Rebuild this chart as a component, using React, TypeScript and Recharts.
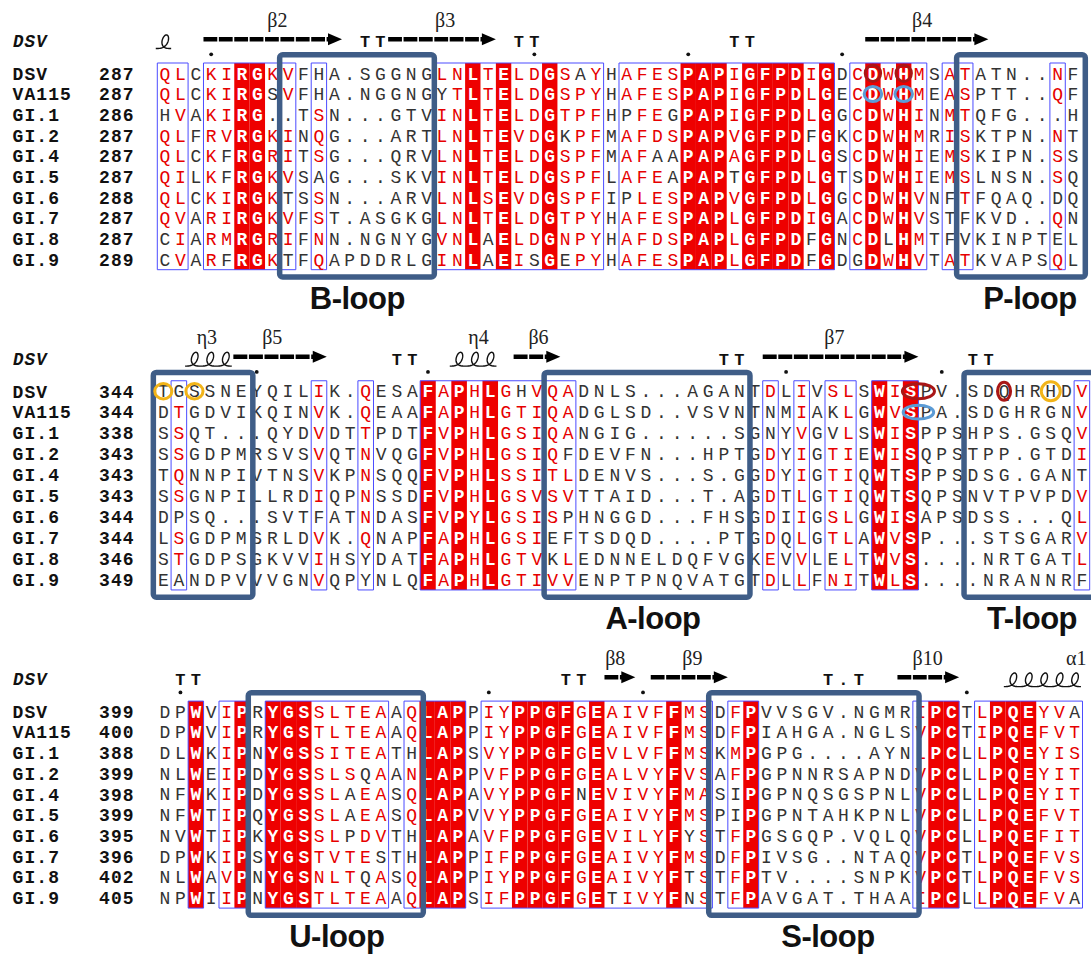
import React from 'react';
import { ScatterChart, Scatter, XAxis, YAxis, ReferenceArea } from 'recharts';

// ---------- data ----------
const NAMES = ['DSV', 'VA115', 'GI.1', 'GI.2', 'GI.4', 'GI.5', 'GI.6', 'GI.7', 'GI.8', 'GI.9'];

const B1_START = [287, 287, 286, 287, 287, 287, 288, 287, 287, 289];
const B1_SEQ = [
  'QLCKIRGKVFHA.SGGNGLNLTELDGSAYHAFESPAPIGFPDIGDCDWHMSATATN..NF',
  'QLCKIRGSVFHA.NGGNGYTLTELDGSPYHAFESPAPIGFPDLGECDWHMEASPTT..QF',
  'HVAKIRG..TSN...GTVINLTELDGTPFHPFEGPAPIGFPDLGGCDWHINMTQFG...H',
  'QLFRVRGKINQG...ARTLNLTEVDGKPFMAFDSPAPVGFPDFGKCDWHMRISKTPN.NT',
  'QLCKFRGRITSG...QRVLNLTELDGSPFMAFAAPAPAGFPDLGSCDWHIEMSKIPN.SS',
  'QILKFRGKVSAG...SKVINLTELDGSPFLAFEAPAPTGFPDLGTSDWHIEMSLNSN.SQ',
  'QLCKIRGKTSSN...ARVLNLSEVDGSPFIPLESPAPVGFPDLGGCDWHVNFTFQAQ.DQ',
  'QVARIRGKVFST.ASGKGLNLTELDGTPYHAFESPAPLGFPDIGACDWHVSTFKVD..QN',
  'CIARMRGRIFNN.NGNYGVNLAELDGNPYHAFDSPAPLGFPDFGNCDLHMTFVKINPTEL',
  'CVARFRGKTFQAPDDRLGINLAEISGEPYHAFESPAPLGFPDFGDGDWHVTATKVAPSQL',
];
const B1_FILL = [6, 7, 21, 23, 26, 35, 36, 37, 39, 40, 41, 42, 44, 47, 49];
const B1_FRAMES = [[1, 2], [4, 9], [11, 11], [19, 29], [31, 44], [46, 50], [52, 53], [59, 59]];
const B1_RED: Record<number, string> = {
  1: 'Q', 2: 'LVI', 4: 'KR', 5: 'IVM', 8: 'KR', 9: 'VI', 11: 'SQN', 19: 'LIV', 20: 'NT', 22: 'TS',
  24: 'LVI', 25: 'D', 27: 'STN', 28: 'P', 29: 'YF', 31: 'A', 32: 'FL', 33: 'ED', 34: 'S', 38: 'IVLA',
  43: 'IL', 46: 'C', 48: 'W', 50: 'MIV', 52: 'AMI', 53: 'TS', 59: 'NQS',
};
const B1_ARROWS = [[4, 12], [16, 22], [47, 54]];
const B1_HELICES = [[1, 1]];
const B1_SS_LABELS: [number, string][] = [[8.3, 'β2'], [19.2, 'β3'], [50.2, 'β4']];
const B1_TURNS: [number, string][] = [[14, 'T'], [15, 'T'], [24, 'T'], [25, 'T'], [38, 'T'], [39, 'T']];
const B1_DOTS = [4, 25, 35, 45, 55];
const B1_LOOPS = [[8.45, 18.5], [52.44, 60.8]];
const B1_LOOP_LABELS: [number, string][] = [[13.5, 'B-loop'], [57.2, 'P-loop']];
const B1_MARKS: [number, number, number, number, string][] = [
  [0, 47, 0.5, 0.39, 'red'], [0, 49, 0.5, 0.39, 'red'], [1, 47, 0.57, 0.36, 'blue'], [1, 49, 0.57, 0.36, 'blue'],
];

const B2_START = [344, 344, 338, 343, 343, 343, 344, 344, 346, 349];
const B2_SEQ = [
  'TGSSNEYQILIK.QESAFAPHLGHVQADNLS...AGANTDLIVSLSWISPV.SDQHRHDV',
  'DTGDVIKQINVK.QEAAFAPHLGTIQADGLSD..VSVNTNMIAKLGWVSPA.SDGHRGNV',
  'SSQT...QYDVDTTPDTFVPHLGSIQANGIG......SGNYVGVLSWISPPSHPS.GSQV',
  'SSGDPMRSVSVQTNVQGFVPHLGSIQFDEVFN...HPTGDYIGTIEWISQPSTPP.GTDI',
  'TQNNPIVTNSVKPNSQQFVPHLSSITLDENVS...S.GGDYIGTIQWTSPPSDSG.GANT',
  'SSGNPILLRDIQPNSSDFVPHLGSVSVTTAID...T.AGDTLGTIQWTSQPSNVTPVPDV',
  'DPSQ...SVTFATNDASFVPYLGSISPHNGGD...FHSGDIIGSLGWISAPSDSS...QL',
  'LSGDPMSRLDVK.QNAPFAPHLGSIEFTSDQD....PTGDQLGTLAWVSP...STSGARV',
  'STGDPSGKVVIHSYDATFAPHLGTVKLEDNNELDQFVGKEVVLELTWVS....NRTGATL',
  'EANDPVVVGNVQPYNLQFAPHLGTIVVENPTPNQVATGTDLLFNITWLS....NRANNRF',
];
const B2_FILL = [18, 20, 22, 47, 49];
const B2_FRAMES = [[2, 2], [11, 11], [14, 14], [18, 27], [40, 40], [42, 42], [44, 45], [47, 49], [60, 60]];
const B2_RED: Record<number, string> = {
  2: 'TSQ', 11: 'IV', 14: 'QTN', 19: 'AV', 21: 'HY', 23: 'GS', 24: 'TS', 25: 'VI', 26: 'QTSV', 27: 'ALV',
  40: 'DE', 42: 'IVL', 44: 'STN', 45: 'LI', 48: 'IVL', 60: 'VIL',
};
const B2_ARROWS = [[6, 11], [24, 26], [40, 49]];
const B2_HELICES = [[3, 5], [20, 22]];
const B2_SS_LABELS: [number, string][] = [[3.8, 'η3'], [8.0, 'β5'], [21.25, 'η4'], [25.1, 'β6'], [44.1, 'β7']];
const B2_TURNS: [number, string][] = [[16, 'T'], [17, 'T'], [37, 'T'], [38, 'T'], [53, 'T'], [54, 'T']];
const B2_DOTS = [7, 18, 28, 41, 51];
const B2_LOOPS = [[0.36, 6.75], [25.46, 38.68], [52.43, 60.9]];
const B2_LOOP_LABELS: [number, string][] = [[32.45, 'A-loop'], [56.8, 'T-loop']];
const B2_MARKS: [number, number, number, number, string][] = [
  [0, 1, 0.55, 0.37, 'orange'], [0, 3, 0.55, 0.37, 'orange'], [0, 49.5, 1.03, 0.36, 'red'],
  [1, 49.5, 0.98, 0.33, 'blue'], [0, 55, 0.42, 0.43, 'red'], [0, 58, 0.61, 0.45, 'orange'],
];

const B3_START = [399, 400, 388, 399, 398, 399, 395, 396, 402, 405];
const B3_SEQ = [
  'DPWVIPRYGSSLTEAAQLAPPIYPPGFGEAIVFFMSDFPVVSGV.NGMRIPCTLPQEYVA',
  'DPWVIPRYGSTLTEAAQLAPPIYPPGFGEAIVFFMSDFPIAHGA.NGLSVPCTIPQEFVT',
  'DLWKIPNYGSSITEATHLAPSVYPPGFGEVLVFFMSKMPGPG....AYNLPCLLPQEYIS',
  'NLWEIPDYGSSLSQAANLAPPVFPPGFGEALVYFVSAFPGPNNRSAPNDVPCLLPQEYIT',
  'NFWKIPDYGSSLAEASQLAPAVYPPGFNEVIVYFMASIPGPNQSGSPNLVPCLLPQEYIT',
  'NFWTIPQYGSSLAEASQLAPVVYPPGFGEAIVYFMSPIPGPNTAHKPNLVPCLLPQEFVT',
  'NVWTIPKYGSSLPDVTHLAPAVFPPGFGEVILYFYSTFPGSGQP.VQLQVPCLLPQEFIT',
  'DPWKIPSYGSTVTESTHLAPPIFPPGFGEAIVYFMSDFPIVSG..NTAQVPCTLPQEFVS',
  'NLWAVPNYGSNLTQASQLAPPIYPPGFGEAIVYFTSTFPTV....SNPKVPCTLPQEFVS',
  'NPWIIPNYGSTLTEAAQLAPSIFPPGFGETIVYFNSTFPAVGAT.THAAIPCLLPQEFVA',
];
const B3_FILL = [3, 6, 8, 9, 10, 18, 19, 20, 24, 25, 26, 27, 29, 34, 39, 51, 52, 55, 56, 57];
const B3_FRAMES = [[3, 3], [5, 6], [8, 15], [17, 20], [22, 36], [38, 39], [50, 52], [54, 60]];
const B3_RED: Record<number, string> = {
  5: 'IV', 11: 'STN', 12: 'LIV', 13: 'TS', 14: 'ED', 15: 'AV', 17: 'QN', 22: 'IV', 23: 'YF', 28: 'G',
  30: 'AV', 31: 'IL', 32: 'VL', 33: 'FY', 35: 'MV', 36: 'SA', 38: 'FM', 50: 'IVL', 54: 'LI', 58: 'YF',
  59: 'VI', 60: 'TS',
};
const B3_ARROWS = [[30, 31], [33, 37], [49, 52]];
const B3_HELICES = [[56, 60]];
const B3_SS_LABELS: [number, string][] = [[30.2, 'β8'], [35.2, 'β9'], [50.46, 'β10'], [60.1, 'α1']];
const B3_TURNS: [number, string][] = [[2, 'T'], [3, 'T'], [27, 'T'], [28, 'T'], [44, 'T'], [45, '.'], [46, 'T']];
const B3_DOTS = [2, 12, 22, 32, 42, 53];
const B3_LOOPS = [[6.4, 17.75], [36.26, 49.9]];
const B3_LOOP_LABELS: [number, string][] = [[12.14, 'U-loop'], [43.99, 'S-loop']];
const B3_MARKS: [number, number, number, number, string][] = [];

// ---------- style ----------
const W = 1091;
const NCOL = 60;
const Y_MIN = -3.5;
const Y_MAX = 12;
const HEADER_Y = -1.55;
const TURN_Y = -1.55;
const DOT_Y = -0.92;
const SS_LABEL_Y = -2.58;
const LOOP_LABEL_Y = 10.85;
const MONO = '"Liberation Mono", "DejaVu Sans Mono", monospace';
const SERIF = '"Liberation Serif", "DejaVu Serif", serif';
const SANS = '"Liberation Sans", Arial, sans-serif';
const RED_FILL = '#ee0000';
const RED_TXT = '#e60000';
const DARK = '#333';
const FRAME = '#4a4aff';
const BOX = '#3f5d87';
const MARK_COLORS: Record<string, string> = { red: '#a91616', blue: '#5b9bd5', orange: '#f2b418' };

type Cfg = {
  x0: number; colW: number; rowY0: number; rowH: number;
  seqs: string[]; starts: number[]; fills: number[]; frames: number[][]; red: Record<number, string>;
  arrows: number[][]; helices: number[][]; ssLabels: [number, string][]; turns: [number, string][];
  dots: number[]; loops: number[][]; loopLabels: [number, string][];
  marks: [number, number, number, number, string][];
};

const BLOCKS: Cfg[] = [
  { x0: 157.3, colW: 15.39, rowY0: 73.3, rowH: 20.67, seqs: B1_SEQ, starts: B1_START, fills: B1_FILL,
    frames: B1_FRAMES, red: B1_RED, arrows: B1_ARROWS, helices: B1_HELICES, ssLabels: B1_SS_LABELS,
    turns: B1_TURNS, dots: B1_DOTS, loops: B1_LOOPS, loopLabels: B1_LOOP_LABELS, marks: B1_MARKS },
  { x0: 155.5, colW: 15.57, rowY0: 391, rowH: 20.92, seqs: B2_SEQ, starts: B2_START, fills: B2_FILL,
    frames: B2_FRAMES, red: B2_RED, arrows: B2_ARROWS, helices: B2_HELICES, ssLabels: B2_SS_LABELS,
    turns: B2_TURNS, dots: B2_DOTS, loops: B2_LOOPS, loopLabels: B2_LOOP_LABELS, marks: B2_MARKS },
  { x0: 157.3, colW: 15.42, rowY0: 711.7, rowH: 20.7, seqs: B3_SEQ, starts: B3_START, fills: B3_FILL,
    frames: B3_FRAMES, red: B3_RED, arrows: B3_ARROWS, helices: B3_HELICES, ssLabels: B3_SS_LABELS,
    turns: B3_TURNS, dots: B3_DOTS, loops: B3_LOOPS, loopLabels: B3_LOOP_LABELS, marks: B3_MARKS },
];

function buildCells(cfg: Cfg) {
  const out: { x: number; y: number; ch: string; kind: string }[] = [];
  cfg.seqs.forEach((s, r) => {
    for (let c = 1; c <= s.length; c++) {
      const ch = s[c - 1];
      let kind = 'k';
      if (cfg.fills.includes(c)) kind = 'w';
      else if (cfg.red[c] && ch !== '.' && cfg.red[c].includes(ch)) kind = 'r';
      out.push({ x: c, y: r, ch, kind });
    }
  });
  return out;
}

const letterShape = (p: any) => {
  const { cx, cy, payload } = p;
  const k = payload.kind;
  return (
    <text x={cx} y={cy + 6.2} textAnchor="middle" fontFamily={MONO} fontSize={18}
      fontWeight={k === 'w' ? 700 : 400} fill={k === 'w' ? '#fff' : k === 'r' ? RED_TXT : DARK}>
      {payload.ch}
    </text>
  );
};

const turnShape = (p: any) => (
  <text x={p.cx} y={p.cy + 6} textAnchor="middle" fontFamily={MONO} fontSize={17} fontWeight={700} fill="#111">
    {p.payload.ch}
  </text>
);

const dotShape = (p: any) => <circle cx={p.cx} cy={p.cy} r={1.9} fill="#111" />;

const ssLabelShape = (p: any) => (
  <text x={p.cx} y={p.cy + 7} textAnchor="middle" fontFamily={SERIF} fontSize={20} fill="#222">
    {p.payload.t}
  </text>
);

const loopLabelShape = (p: any) => (
  <text x={p.cx} y={p.cy + 11} textAnchor="middle" fontFamily={SANS} fontSize={31} fontWeight={700}
    fill="#111" letterSpacing={-0.5}>
    {p.payload.t}
  </text>
);

const arrowShape = (n: number) => (p: any) => {
  const { x, y, width, height } = p;
  const cy = y + height / 2;
  const head = 14;
  const hh = 6;
  const shaftEnd = x + width - head;
  const cw = width / n;
  return (
    <g>
      <line x1={x} y1={cy} x2={shaftEnd + 1} y2={cy} stroke="#000" strokeWidth={4.5}
        strokeDasharray={`${(cw - 1.6).toFixed(2)} 1.6`} />
      <polygon points={`${shaftEnd},${cy - hh} ${x + width},${cy} ${shaftEnd},${cy + hh}`} fill="#000" />
    </g>
  );
};

const helixShape = (n: number) => (p: any) => {
  const { x, y, width, height } = p;
  const w = width / n;
  const yb = y + height;
  const d = w * 0.42;
  const steps = 48 * n;
  let path = '';
  for (let i = 0; i <= steps; i++) {
    const t = Math.PI + (i / 48) * 2 * Math.PI;
    const f = Math.pow((1 + Math.cos(t)) / 2, 1.4);
    const yy = yb - height * f;
    const xx = x + (w * (t - Math.PI)) / (2 * Math.PI) - d * Math.sin(t) + 0.22 * (yb - yy) - 0.1 * w;
    path += `${i === 0 ? 'M' : 'L'}${xx.toFixed(2)},${yy.toFixed(2)} `;
  }
  return <path d={path} fill="none" stroke="#111" strokeWidth={1.4} />;
};

const ellipseShape = (color: string) => (p: any) => (
  <ellipse cx={p.x + p.width / 2} cy={p.y + p.height / 2} rx={p.width / 2} ry={p.height / 2}
    fill="none" stroke={color} strokeWidth={3} />
);

const boxShape = (p: any) => (
  <rect x={p.x} y={p.y} width={p.width} height={p.height} rx={3} ry={3} fill="none" stroke={BOX} strokeWidth={5.5} />
);

const makeTick = (starts: number[]) => (p: any) => {
  const v = p.payload.value;
  const y = p.y;
  if (v < 0) {
    return (
      <text x={13} y={y + 6} fontFamily={MONO} fontStyle="italic" fontWeight={700} fontSize={17.5}
        letterSpacing={1} fill="#111">
        DSV
      </text>
    );
  }
  const i = Math.round(v);
  return (
    <g>
      <text x={12.5} y={y + 6.3} fontFamily={MONO} fontWeight={700} fontSize={18} letterSpacing={1.1} fill="#111">
        {NAMES[i]}
      </text>
      <text x={99} y={y + 6.3} fontFamily={MONO} fontWeight={700} fontSize={18} letterSpacing={1.1} fill="#111">
        {starts[i]}
      </text>
    </g>
  );
};

function Block({ cfg }: { cfg: Cfg }) {
  const height = (Y_MAX - Y_MIN) * cfg.rowH;
  const top = cfg.rowY0 + Y_MIN * cfg.rowH;
  const marginRight = W - cfg.x0 - NCOL * cfg.colW;
  const cells = buildCells(cfg);
  const turns = cfg.turns.map(([c, ch]) => ({ x: c, y: TURN_Y, ch }));
  const dots = cfg.dots.map((c) => ({ x: c, y: DOT_Y }));
  const ssl = cfg.ssLabels.map(([c, t]) => ({ x: c, y: SS_LABEL_Y, t }));
  const ll = cfg.loopLabels.map(([c, t]) => ({ x: c, y: LOOP_LABEL_Y, t }));
  const nrows = cfg.seqs.length;
  const ticks = [HEADER_Y, ...cfg.seqs.map((_, i) => i)];
  return (
    <div style={{ position: 'absolute', left: 0, top }}>
      <ScatterChart width={W} height={height} margin={{ top: 0, right: marginRight, bottom: 0, left: 0 }}>
        <XAxis type="number" dataKey="x" domain={[0.5, NCOL + 0.5]} hide />
        <YAxis type="number" dataKey="y" domain={[Y_MIN, Y_MAX]} reversed width={cfg.x0} ticks={ticks}
          interval={0} axisLine={false} tickLine={false} tick={makeTick(cfg.starts)} />
        {cfg.fills.map((c) => (
          <ReferenceArea key={`f${c}`} x1={c - 0.5} x2={c + 0.5} y1={-0.5} y2={nrows - 0.5}
            fill={RED_FILL} fillOpacity={1} stroke="none" ifOverflow="visible" zIndex={-10} />
        ))}
        {cfg.frames.map(([a, b]) => (
          <ReferenceArea key={`fr${a}`} x1={a - 0.5} x2={b + 0.5} y1={-0.5} y2={nrows - 0.5}
            fill="none" fillOpacity={0} stroke={FRAME} strokeWidth={1} ifOverflow="visible" zIndex={-5} />
        ))}
        {cfg.arrows.map(([a, b]) => (
          <ReferenceArea key={`a${a}`} x1={a - 0.5} x2={b + 0.5} y1={-1.75} y2={-1.55}
            ifOverflow="visible" shape={arrowShape(b - a + 1)} />
        ))}
        {cfg.helices.map(([a, b]) => (
          <ReferenceArea key={`h${a}`} x1={a - 0.5} x2={b + 0.5} y1={-1.86} y2={-1.2}
            ifOverflow="visible" shape={helixShape(b - a + 1)} />
        ))}
        <Scatter data={cells} shape={letterShape} isAnimationActive={false} />
        <Scatter data={turns} shape={turnShape} isAnimationActive={false} />
        <Scatter data={dots} shape={dotShape} isAnimationActive={false} />
        <Scatter data={ssl} shape={ssLabelShape} isAnimationActive={false} />
        <Scatter data={ll} shape={loopLabelShape} isAnimationActive={false} />
        {cfg.loops.map(([a, b]) => (
          <ReferenceArea key={`l${a}`} x1={a} x2={b} y1={-0.9} y2={9.85} ifOverflow="visible"
            shape={boxShape} zIndex={1000} />
        ))}
        {cfg.marks.map(([r, c, rx, ry, col], i) => (
          <ReferenceArea key={`m${i}`} x1={c - rx} x2={c + rx} y1={r - ry} y2={r + ry} ifOverflow="visible"
            shape={ellipseShape(MARK_COLORS[col])} zIndex={1000} />
        ))}
      </ScatterChart>
    </div>
  );
}

export default function App() {
  return (
    <div style={{ position: 'absolute', left: 0, top: 0, width: W, height: 958, overflow: 'hidden', background: '#fff' }}>
      {BLOCKS.map((b, i) => (
        <Block key={i} cfg={b} />
      ))}
    </div>
  );
}
